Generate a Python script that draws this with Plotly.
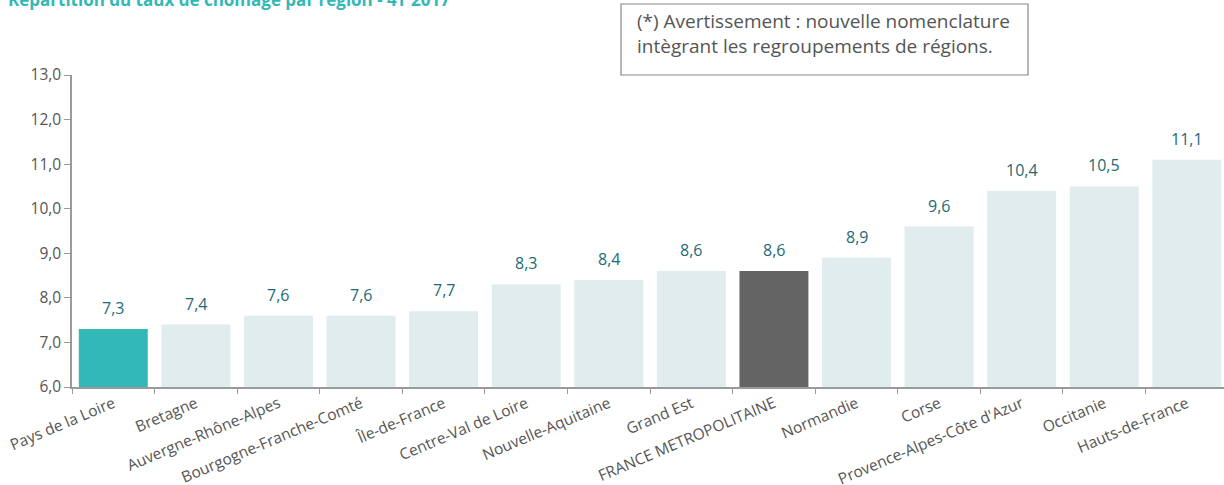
import plotly.graph_objects as go

regions = ["Pays de la Loire", "Bretagne", "Auvergne-Rhône-Alpes", "Bourgogne-Franche-Comté",
           "Île-de-France", "Centre-Val de Loire", "Nouvelle-Aquitaine", "Grand Est",
           "FRANCE METROPOLITAINE", "Normandie", "Corse", "Provence-Alpes-Côte d'Azur",
           "Occitanie", "Hauts-de-France"]
rates = [7.3, 7.4, 7.6, 7.6, 7.7, 8.3, 8.4, 8.6, 8.6, 8.9, 9.6, 10.4, 10.5, 11.1]
y_ticks = [6, 7, 8, 9, 10, 11, 12, 13]
y_tick_labels = ["6,0", "7,0", "8,0", "9,0", "10,0", "11,0", "12,0", "13,0"]

def colour(name, i):
    if i == 0:
        return "#33b8b8"
    if name == "FRANCE METROPOLITAINE":
        return "#646464"
    return "#e0ecee"

colors = [colour(n, i) for i, n in enumerate(regions)]
labels = [f"{v:.1f}".replace(".", ",") for v in rates]

fig = go.Figure(go.Bar(
    x=regions, y=rates, marker_color=colors, marker_line_width=0,
))

# value labels above bars, positioned through the axes
for r, v, lab in zip(regions, rates, labels):
    fig.add_annotation(
        x=r, y=v, text=lab, xref="x", yref="y", showarrow=False,
        yanchor="bottom", yshift=8,
        font=dict(family="Open Sans", size=16, color="#1d6b76"),
    )

fig.update_layout(
    width=1224, height=485,
    margin=dict(l=72, r=0, t=75, b=98),
    paper_bgcolor="white", plot_bgcolor="white",
    bargap=0.165,
    showlegend=False,
    font=dict(family="Open Sans", color="#555555"),
)
fig.update_xaxes(
    range=[-0.5, 13.45], automargin=False,
    tickangle=-23, tickfont=dict(size=15.5, color="#555555"),
    showline=True, linecolor="#9a9a9a", linewidth=1.5,
    ticks="outside", tickcolor="#9a9a9a", ticklen=5, tickson="boundaries",
    showgrid=False,
)
fig.update_yaxes(
    range=[6, 13], tickvals=y_ticks, ticktext=y_tick_labels, automargin=False,
    tickfont=dict(size=15.5, color="#555555"),
    showline=True, linecolor="#9a9a9a", linewidth=1.5,
    ticks="outside", tickcolor="#9a9a9a", ticklen=6,
    showgrid=False, zeroline=False,
)

# Title (partially cut at top, as in the reference)
fig.add_annotation(
    text="<b>Répartition du taux de chômage par région - 4T 2017</b>",
    xref="paper", yref="paper", x=(6 - 72) / 1152, y=(387 + 1) / 312,
    xanchor="left", yanchor="middle", showarrow=False,
    font=dict(family="Open Sans", size=17, color="#33b8b8"),
)

# Warning box
fig.add_shape(
    type="rect", xref="paper", yref="paper",
    x0=(621 - 72) / 1152, x1=(1028 - 72) / 1152,
    y0=(387 - 75) / 312, y1=(387 - 4) / 312,
    line=dict(color="#888888", width=1.2), fillcolor="white",
)
fig.add_annotation(
    text="(*) Avertissement : nouvelle nomenclature<br>intègrant les regroupements de régions.",
    xref="paper", yref="paper", x=(635 - 72) / 1152, y=(387 - 6) / 312,
    xanchor="left", yanchor="top", align="left", showarrow=False,
    font=dict(family="Open Sans", size=19, color="#555555"),
)

fig.write_html("out.html", config={"displayModeBar": False},
               post_script="document.body.style.margin='0';document.body.style.overflow='hidden';")
